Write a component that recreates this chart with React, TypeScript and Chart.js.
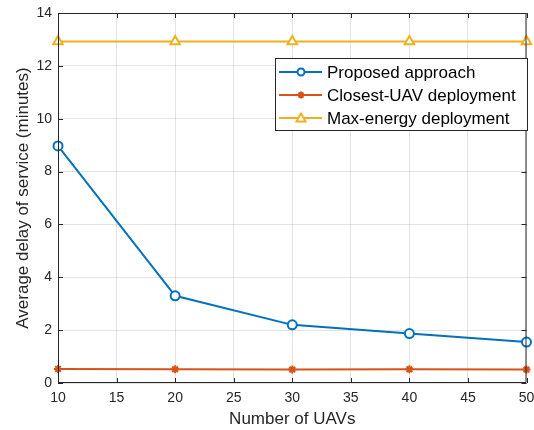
import React, { useEffect, useRef } from "react";
import { Chart, registerables } from "chart.js";

Chart.register(...registerables);

const uavCounts = [10, 20, 30, 40, 50];
const proposed = [8.97, 3.3, 2.2, 1.87, 1.55];
const closestUav = [0.53, 0.52, 0.51, 0.52, 0.51];
const maxEnergy = [12.92, 12.92, 12.92, 12.92, 12.92];
const seriesNames = ["Proposed approach", "Closest-UAV deployment", "Max-energy deployment"];
const xTicks = [10, 15, 20, 25, 30, 35, 40, 45, 50];
const yTicks = [0, 2, 4, 6, 8, 10, 12, 14];

const BLUE = "#0072BD";
const ORANGE = "#D95319";
const YELLOW = "#EDB120";
const AXIS = "#262626";
const FONT = "'Liberation Sans', Arial, Helvetica, sans-serif";

const boxPlugin = {
  id: "matlabBox",
  afterDatasetsDraw(chart: any) {
    const { ctx, chartArea: a, scales } = chart;
    ctx.save();
    ctx.strokeStyle = AXIS;
    ctx.lineWidth = 1;
    ctx.beginPath();
    ctx.rect(a.left + 0.5, a.top + 0.5, a.right - a.left - 1, a.bottom - a.top - 1);
    ctx.stroke();
    const tl = 5;
    ctx.beginPath();
    for (const v of xTicks) {
      const x = Math.round(scales.x.getPixelForValue(v)) + 0.5;
      ctx.moveTo(x, a.bottom);
      ctx.lineTo(x, a.bottom - tl);
      ctx.moveTo(x, a.top);
      ctx.lineTo(x, a.top + tl);
    }
    for (const v of yTicks) {
      const y = Math.round(scales.y.getPixelForValue(v)) + 0.5;
      ctx.moveTo(a.left, y);
      ctx.lineTo(a.left + tl, y);
      ctx.moveTo(a.right, y);
      ctx.lineTo(a.right - tl, y);
    }
    ctx.stroke();
    ctx.restore();
  },
  afterDraw(chart: any) {
    const { ctx } = chart;
    const x0 = 275, y0 = 58, w = 252, h = 72;
    ctx.save();
    ctx.fillStyle = "#ffffff";
    ctx.fillRect(x0, y0, w, h);
    ctx.strokeStyle = AXIS;
    ctx.lineWidth = 1;
    ctx.strokeRect(x0 + 0.5, y0 + 0.5, w, h);
    const rows = [72, 95, 118];
    const cx = 301;
    chart.data.datasets.forEach((ds: any, i: number) => {
      const y = rows[i];
      ctx.strokeStyle = ds.borderColor;
      ctx.lineWidth = 2;
      ctx.beginPath();
      ctx.moveTo(279, y);
      ctx.lineTo(322, y);
      ctx.stroke();
      ctx.fillStyle = "#ffffff";
      ctx.lineWidth = 2;
      const style = ds.pointStyle;
      if (style === "circle") {
        ctx.beginPath();
        ctx.arc(cx, y, 3.5, 0, Math.PI * 2);
        ctx.fill();
        ctx.stroke();
      } else if (style === "triangle") {
        ctx.beginPath();
        const s = 4.5;
        ctx.moveTo(cx, y - s);
        ctx.lineTo(cx + s, y + s * 0.75);
        ctx.lineTo(cx - s, y + s * 0.75);
        ctx.closePath();
        ctx.fill();
        ctx.stroke();
      } else {
        ctx.beginPath();
        const r = 3.5;
        for (let k = 0; k < 4; k++) {
          const ang = (k * Math.PI) / 4;
          ctx.moveTo(cx - Math.cos(ang) * r, y - Math.sin(ang) * r);
          ctx.lineTo(cx + Math.cos(ang) * r, y + Math.sin(ang) * r);
        }
        ctx.stroke();
      }
      ctx.fillStyle = "#000000";
      ctx.font = `17px ${FONT}`;
      ctx.textBaseline = "middle";
      ctx.textAlign = "left";
      ctx.fillText(ds.label, 327, y + 1);
    });
    ctx.restore();
  },
};

export default function App() {
  const ref = useRef<HTMLCanvasElement>(null);
  useEffect(() => {
    document.body.style.margin = "0";
    const ctx = ref.current!.getContext("2d")!;
    const mk = (label: string, data: number[], color: string, style: string, r: number) => ({
      label,
      data: uavCounts.map((x, i) => ({ x, y: data[i] })),
      borderColor: color,
      backgroundColor: "#ffffff",
      borderWidth: 2,
      pointStyle: style,
      pointRadius: r,
      pointBorderWidth: 2,
      pointBackgroundColor: style === "star" ? color : "#ffffff",
      pointBorderColor: color,
      tension: 0,
      clip: false,
    });
    const chart = new Chart(ctx, {
      type: "line",
      data: {
        datasets: [
          mk(seriesNames[0], proposed, BLUE, "circle", 4.5),
          mk(seriesNames[1], closestUav, ORANGE, "star", 4),
          mk(seriesNames[2], maxEnergy, YELLOW, "triangle", 5.5),
        ] as any,
      },
      options: {
        animation: false,
        responsive: false,
        layout: { padding: { top: 13, right: 4, left: 0, bottom: 0 } },
        plugins: { legend: { display: false }, tooltip: { enabled: false } },
        scales: {
          x: {
            type: "linear",
            min: 10,
            max: 50,
            afterBuildTicks: (s: any) => {
              s.ticks = xTicks.map((v) => ({ value: v }));
            },
            afterFit: (s: any) => {
              s.height = 47;
              s.paddingLeft = 0;
              s.paddingRight = 0;
            },
            grid: { color: "rgba(38,38,38,0.13)", drawTicks: false, lineWidth: 1 },
            border: { display: false },
            ticks: { color: AXIS, font: { size: 14, family: FONT }, padding: 7, maxRotation: 0, autoSkip: false },
            title: { display: true, text: "Number of UAVs", color: AXIS, font: { size: 17, family: FONT }, padding: { top: 0, bottom: 0 } },
          },
          y: {
            type: "linear",
            min: 0,
            max: 14,
            afterBuildTicks: (s: any) => {
              s.ticks = yTicks.map((v) => ({ value: v }));
            },
            afterFit: (s: any) => {
              s.width = 58;
              s.paddingTop = 0;
              s.paddingBottom = 0;
            },
            grid: { color: "rgba(38,38,38,0.13)", drawTicks: false, lineWidth: 1 },
            border: { display: false },
            ticks: { color: AXIS, font: { size: 14, family: FONT }, padding: 6 },
            title: { display: true, text: "Average delay of service (minutes)", color: AXIS, font: { size: 17, family: FONT }, padding: { top: 13, bottom: 0 } },
          },
        },
      },
      plugins: [boxPlugin],
    });
    return () => chart.destroy();
  }, []);
  return (
    <div style={{ position: "absolute", left: 0, top: 0, width: 534, height: 430 }}>
      <canvas ref={ref} width={534} height={430} style={{ display: "block", width: 534, height: 430 }} />
    </div>
  );
}
